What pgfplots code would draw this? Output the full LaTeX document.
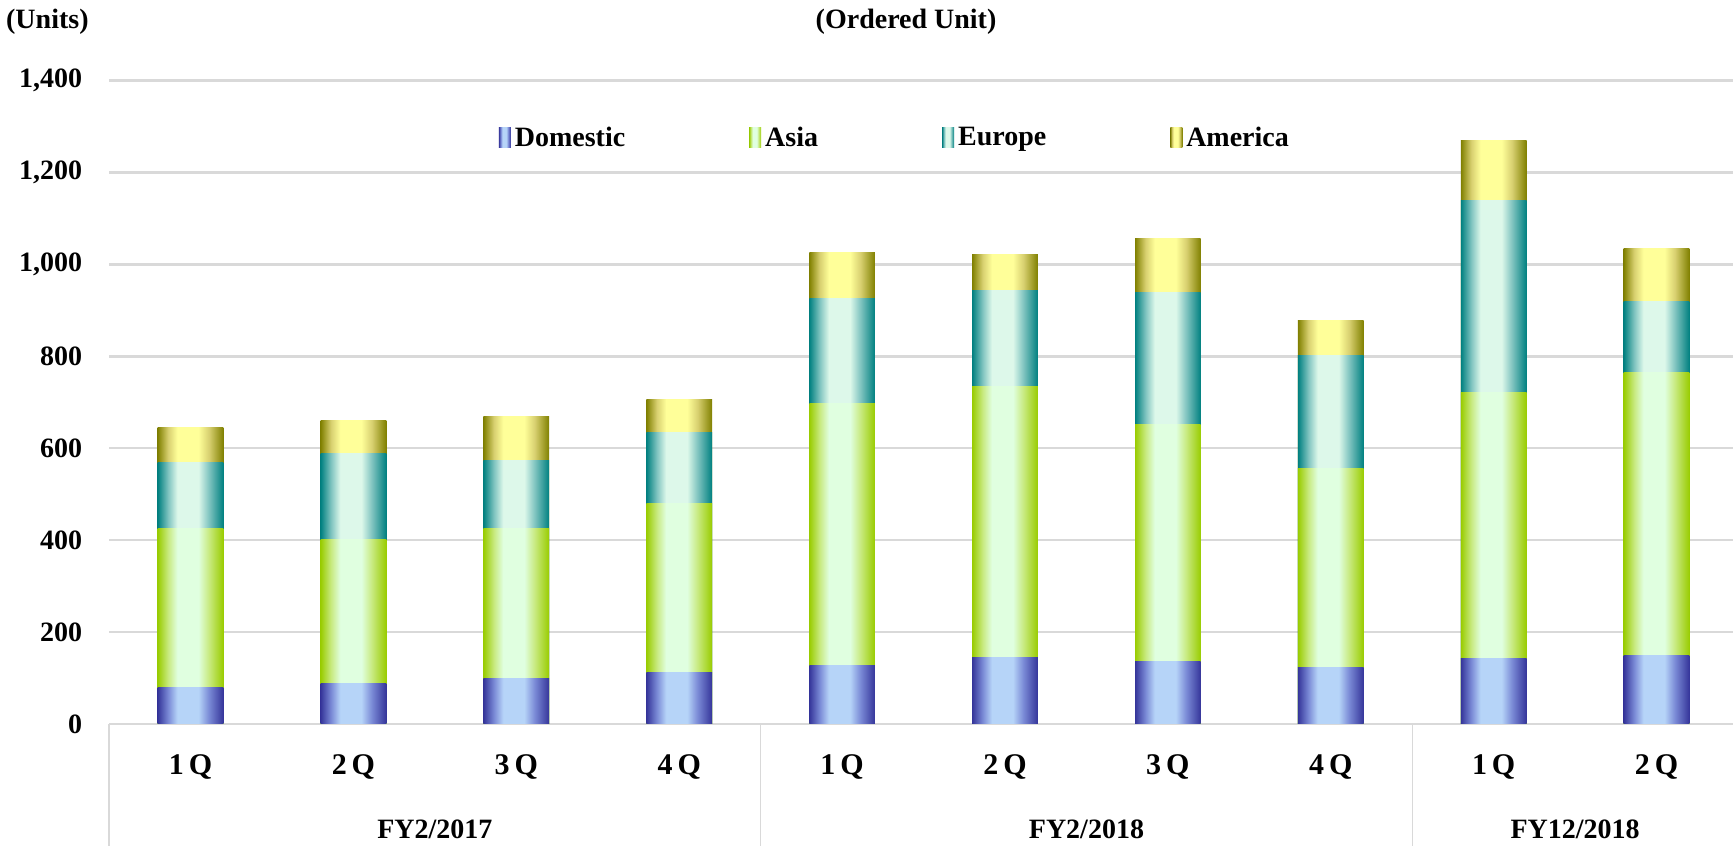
\documentclass[border=0pt]{standalone}
\usepackage{pgfplots}
\pgfplotsset{compat=1.18}
\usepackage{pgfplotstable}
\usepackage{fontspec}
\setmainfont{Liberation Serif}

\definecolor{domD}{RGB}{53,53,154}
\definecolor{domM}{RGB}{122,138,214}
\definecolor{domL}{RGB}{182,212,248}
\definecolor{asiaD}{RGB}{153,204,0}
\definecolor{asiaM}{RGB}{200,234,128}
\definecolor{asiaL}{RGB}{224,255,224}
\definecolor{eurD}{RGB}{0,128,128}
\definecolor{eurM}{RGB}{128,196,192}
\definecolor{eurL}{RGB}{221,248,234}
\definecolor{amD}{RGB}{128,128,0}
\definecolor{amM}{RGB}{216,208,112}
\definecolor{amL}{RGB}{255,255,153}
\definecolor{gridgray}{RGB}{217,217,217}

\pgfdeclarehorizontalshading{domshade}{100bp}{color(0bp)=(domD); color(25bp)=(domD); color(33bp)=(domM); color(40bp)=(domL); color(56bp)=(domL); color(64bp)=(domM); color(75bp)=(domD); color(100bp)=(domD)}
\pgfdeclarehorizontalshading{asiashade}{100bp}{color(0bp)=(asiaD); color(25bp)=(asiaD); color(33bp)=(asiaM); color(40bp)=(asiaL); color(56bp)=(asiaL); color(64bp)=(asiaM); color(75bp)=(asiaD); color(100bp)=(asiaD)}
\pgfdeclarehorizontalshading{eurshade}{100bp}{color(0bp)=(eurD); color(25bp)=(eurD); color(33bp)=(eurM); color(40bp)=(eurL); color(56bp)=(eurL); color(64bp)=(eurM); color(75bp)=(eurD); color(100bp)=(eurD)}
\pgfdeclarehorizontalshading{amshade}{100bp}{color(0bp)=(amD); color(25bp)=(amD); color(33bp)=(amM); color(40bp)=(amL); color(56bp)=(amL); color(64bp)=(amM); color(75bp)=(amD); color(100bp)=(amD)}

\pgfplotstableread{
x dom asia eur amer
0 79 347 144 76
1 89 313 186 73
2 100 326 148 96
3 111 369 155 72
4 127 571 229 99
5 144 591 208 79
6 137 515 287 118
7 123 434 245 76
8 142 580 418 129
9 149 615 155 115
}\datatable

\newcommand{\lbl}{\fontsize{14}{16}\selectfont\bfseries}
\newcommand{\qlbl}{\fontsize{15}{17}\selectfont\bfseries}

\begin{document}
\begin{tikzpicture}
\begin{axis}[
  name=ax,
  scale only axis,
  width=814.5pt, height=321.65pt,
  ybar, bar width=32.85pt,
  xmin=-0.5, xmax=9.5, ymin=0, ymax=1400,
  ytick={0,200,...,1400},
  xtick={0,...,9},
  xticklabels={1\,Q,2\,Q,3\,Q,4\,Q,1\,Q,2\,Q,3\,Q,4\,Q,1\,Q,2\,Q},
  ymajorgrids,
  major grid style={gridgray, line width=1.2pt},
  axis line style={draw=none},
  major tick length=0pt,
  clip=false,
  /pgf/number format/assume math mode=true,
  /pgf/number format/1000 sep={,},
  yticklabel style={font=\lbl, xshift=-10pt},
  xticklabel style={font=\qlbl, anchor=base, yshift=-25.5pt},
  legend columns=4,
  legend style={at={(rel axis cs:0.483,0.911)}, anchor=center, draw=none, fill=none,
    font=\lbl, /tikz/every even column/.append style={column sep=60pt}},
  legend image code/.code={\path[#1, draw=none] (0pt,-5pt) rectangle (6pt,5pt);},
]
\addlegendimage{shade, shading=domshade, draw=none}
\addlegendentry{Domestic}
\addlegendimage{shade, shading=asiashade, draw=none}
\addlegendentry{Asia}
\addlegendimage{shade, shading=eurshade, draw=none}
\addlegendentry{Europe}
\addlegendimage{shade, shading=amshade, draw=none}
\addlegendentry{America}

\pgfplotsinvokeforeach{0,...,9}{
\addplot[forget plot, bar shift=0pt, shade, shading=amshade, draw=none, restrict x to domain=#1:#1]
  table[x=x, y expr=\thisrow{dom}+\thisrow{asia}+\thisrow{eur}+\thisrow{amer}] {\datatable};
\addplot[forget plot, bar shift=0pt, shade, shading=eurshade, draw=none, restrict x to domain=#1:#1]
  table[x=x, y expr=\thisrow{dom}+\thisrow{asia}+\thisrow{eur}] {\datatable};
\addplot[forget plot, bar shift=0pt, shade, shading=asiashade, draw=none, restrict x to domain=#1:#1]
  table[x=x, y expr=\thisrow{dom}+\thisrow{asia}] {\datatable};
\addplot[forget plot, bar shift=0pt, shade, shading=domshade, draw=none, restrict x to domain=#1:#1]
  table[x=x, y=dom] {\datatable};
}

\draw[gridgray, line width=0.6pt] (axis cs:-0.5,0) -- ++(0pt,-61pt);
\draw[gridgray, line width=0.6pt] (axis cs:3.5,0) -- ++(0pt,-61pt);
\draw[gridgray, line width=0.6pt] (axis cs:7.5,0) -- ++(0pt,-61pt);
\node[anchor=base, font=\lbl, yshift=-57.2pt] at (axis cs:1.5,0) {FY2/2017};
\node[anchor=base, font=\lbl, yshift=-57.2pt] at (axis cs:5.5,0) {FY2/2018};
\node[anchor=base, font=\lbl, yshift=-57.2pt] at (axis cs:8.5,0) {FY12/2018};
\node[anchor=base west, font=\lbl, xshift=-55pt, yshift=26.1pt] at (rel axis cs:0,1) {(Units)};
\node[anchor=base, font=\lbl, xshift=398.5pt, yshift=26.1pt] at (rel axis cs:0,1) {(Ordered Unit)};
\end{axis}
\pgfresetboundingbox
\path (ax.south west) ++(-54.55pt,-61pt) rectangle ([xshift=-2.5pt, yshift=40.35pt]ax.north east);
\end{tikzpicture}
\end{document}
